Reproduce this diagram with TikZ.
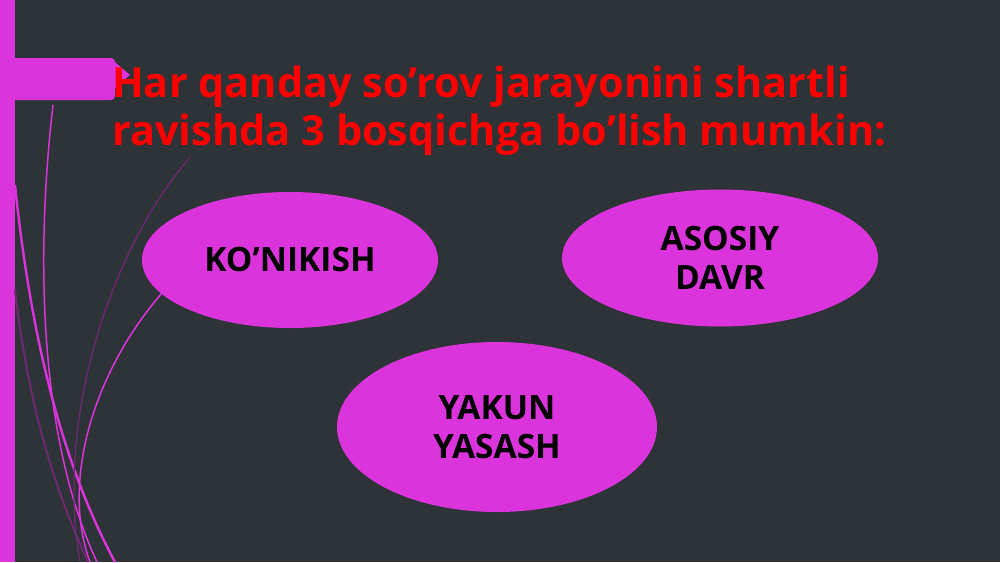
\documentclass[tikz,border=0pt]{standalone}
\usepackage{fontspec}
\setmainfont{Open Sans}
\usetikzlibrary{positioning,shapes.geometric}
\definecolor{slidebg}{HTML}{2E3338}
\definecolor{mag}{HTML}{DC34DC}
\definecolor{darkmag}{HTML}{6E2A70}
\tikzset{stage node/.style={ellipse,fill=mag,inner sep=0pt,align=center,font=\bfseries\fontsize{33.5}{39}\selectfont,text=black} }
\tikzset{swirl/.style={mag,line width=1.5pt} }

\begin{document}
\begin{tikzpicture}[x=1pt,y=-1pt]
  \fill[slidebg] (0,0) rectangle (1000,562);
  \useasboundingbox (0,0) rectangle (1000,562);

  % left decoration
  \fill[mag] (0,0) rectangle (15,562);
  \fill[mag] (110,58) -- (130,75) -- (110,92) -- cycle;
  \fill[mag, rounded corners=4pt] (10,58) -- (115,58) -- (115,100) -- (10,100) -- cycle;

  \draw[swirl, line width=2.4pt] (15,185) .. controls (30,330) and (60,460) .. (115,562);
  \draw[swirl] (53,105) .. controls (35,260) and (40,440) .. (97,562);
  \draw[swirl] (162,293) .. controls (95,370) and (60,480) .. (90,562);
  \draw[swirl, darkmag, line width=1.3pt] (190,157) .. controls (110,250) and (55,420) .. (80,562);
  \draw[swirl, darkmag, line width=2pt] (15,290) .. controls (30,420) and (60,500) .. (88,562);

  % title
  \node[anchor=base west, inner sep=0pt, text=red, font=\bfseries\fontsize{41.5}{48}\selectfont] (title1) at (112,97) {Har qanday so’rov jarayonini shartli};
  \node[anchor=base west, inner sep=0pt, text=red, font=\bfseries\fontsize{41.5}{48}\selectfont] (title2) at (112,145) {ravishda 3 bosqichga bo’lish mumkin:};

  % stages
  \node[stage node, minimum width=296pt, minimum height=136pt] (konikish) at (290,260) {KO’NIKISH};
  \node[stage node, minimum width=316pt, minimum height=137pt] (asosiy) at (720,258) {ASOSIY\\DAVR};
  \node[stage node, minimum width=320pt, minimum height=170pt] (yakun) at (497,427) {YAKUN\\YASASH};
\end{tikzpicture}
\end{document}
